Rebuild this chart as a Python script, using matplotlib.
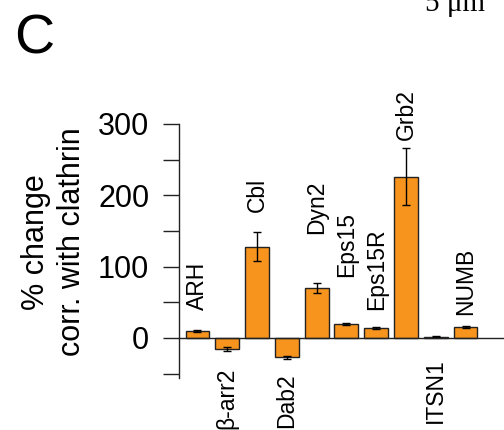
"""
Percent change in correlation with clathrin (panel C)
"""

import matplotlib
matplotlib.use('Agg')
import matplotlib.pyplot as plt
import numpy as np

#---------------------------------------------------------------------------------------------------
# Data
#---------------------------------------------------------------------------------------------------

proteins = ['ARH', '\u03b2-arr2', 'Cbl', 'Dab2', 'Dyn2', 'Eps15', 'Eps15R', 'Grb2', 'ITSN1', 'NUMB']
pct_change = [10, -15, 128, -27, 70, 20, 14, 226, 2, 16]
pct_err = [1, 3, 20, 2, 7, 1.5, 1, 40, 0.5, 1.5]

#---------------------------------------------------------------------------------------------------
# Layout
#---------------------------------------------------------------------------------------------------

# label anchor (data units): bottom of text for labels above, top of text for labels below
label_y = [39, -41, 176, -49, 145, 85, 39, 277, -28, 32]
label_below = [False, True, False, True, False, False, False, False, True, False]

bar_color = '#F7941D'
plt.rcParams['font.family'] = ['Liberation Sans', 'DejaVu Sans']

#---------------------------------------------------------------------------------------------------
# Main Program
#---------------------------------------------------------------------------------------------------

fig = plt.figure(figsize=(5.04, 4.30), dpi=100)
ax = fig.add_axes([179/504, 0.121, 325/504, 0.591])

x = np.arange(len(proteins))
ax.bar(x, pct_change, width=0.8, color=bar_color, edgecolor='#222222', lw=1.0, zorder=2)
ax.errorbar(x, pct_change, yerr=pct_err, fmt='none', ecolor='black', elinewidth=1.0,
            capsize=3, capthick=1.0, zorder=3)

for xi, name, ly, below in zip(x, proteins, label_y, label_below):
    ax.text(xi, ly, name, rotation=90, ha='center', va='top' if below else 'bottom',
            fontsize=16.5)

ax.axhline(0, color='#222222', lw=1.0, zorder=4, clip_on=False)

ax.set_xlim(-0.62, 10.29)
ax.set_ylim(-56, 300)
ax.set_yticks(np.arange(-50, 301, 50))
ax.set_yticklabels(['' if v % 100 else str(v) for v in np.arange(-50, 301, 50)])
ax.tick_params(axis='y', length=11.5, width=1.0, pad=10, labelsize=22, color='#222222')
ax.set_xticks([])

for s in ['top', 'right', 'bottom']:
    ax.spines[s].set_visible(False)
ax.spines['left'].set_linewidth(1.0)
ax.spines['left'].set_color('#222222')

fig.text(54/504, 1-242/430, '% change\ncorr. with clathrin', rotation=90, ha='center',
         va='center', fontsize=22, linespacing=1.3, multialignment='center')

fig.text(14/504, 1-54/430, 'C', fontsize=40, ha='left', va='baseline')
fig.text(425/504, 1-11/430, '5 \u03bcm', fontsize=21, ha='left', va='baseline',
         family=['Liberation Serif', 'DejaVu Serif'])

plt.savefig('out.png', dpi=100)
